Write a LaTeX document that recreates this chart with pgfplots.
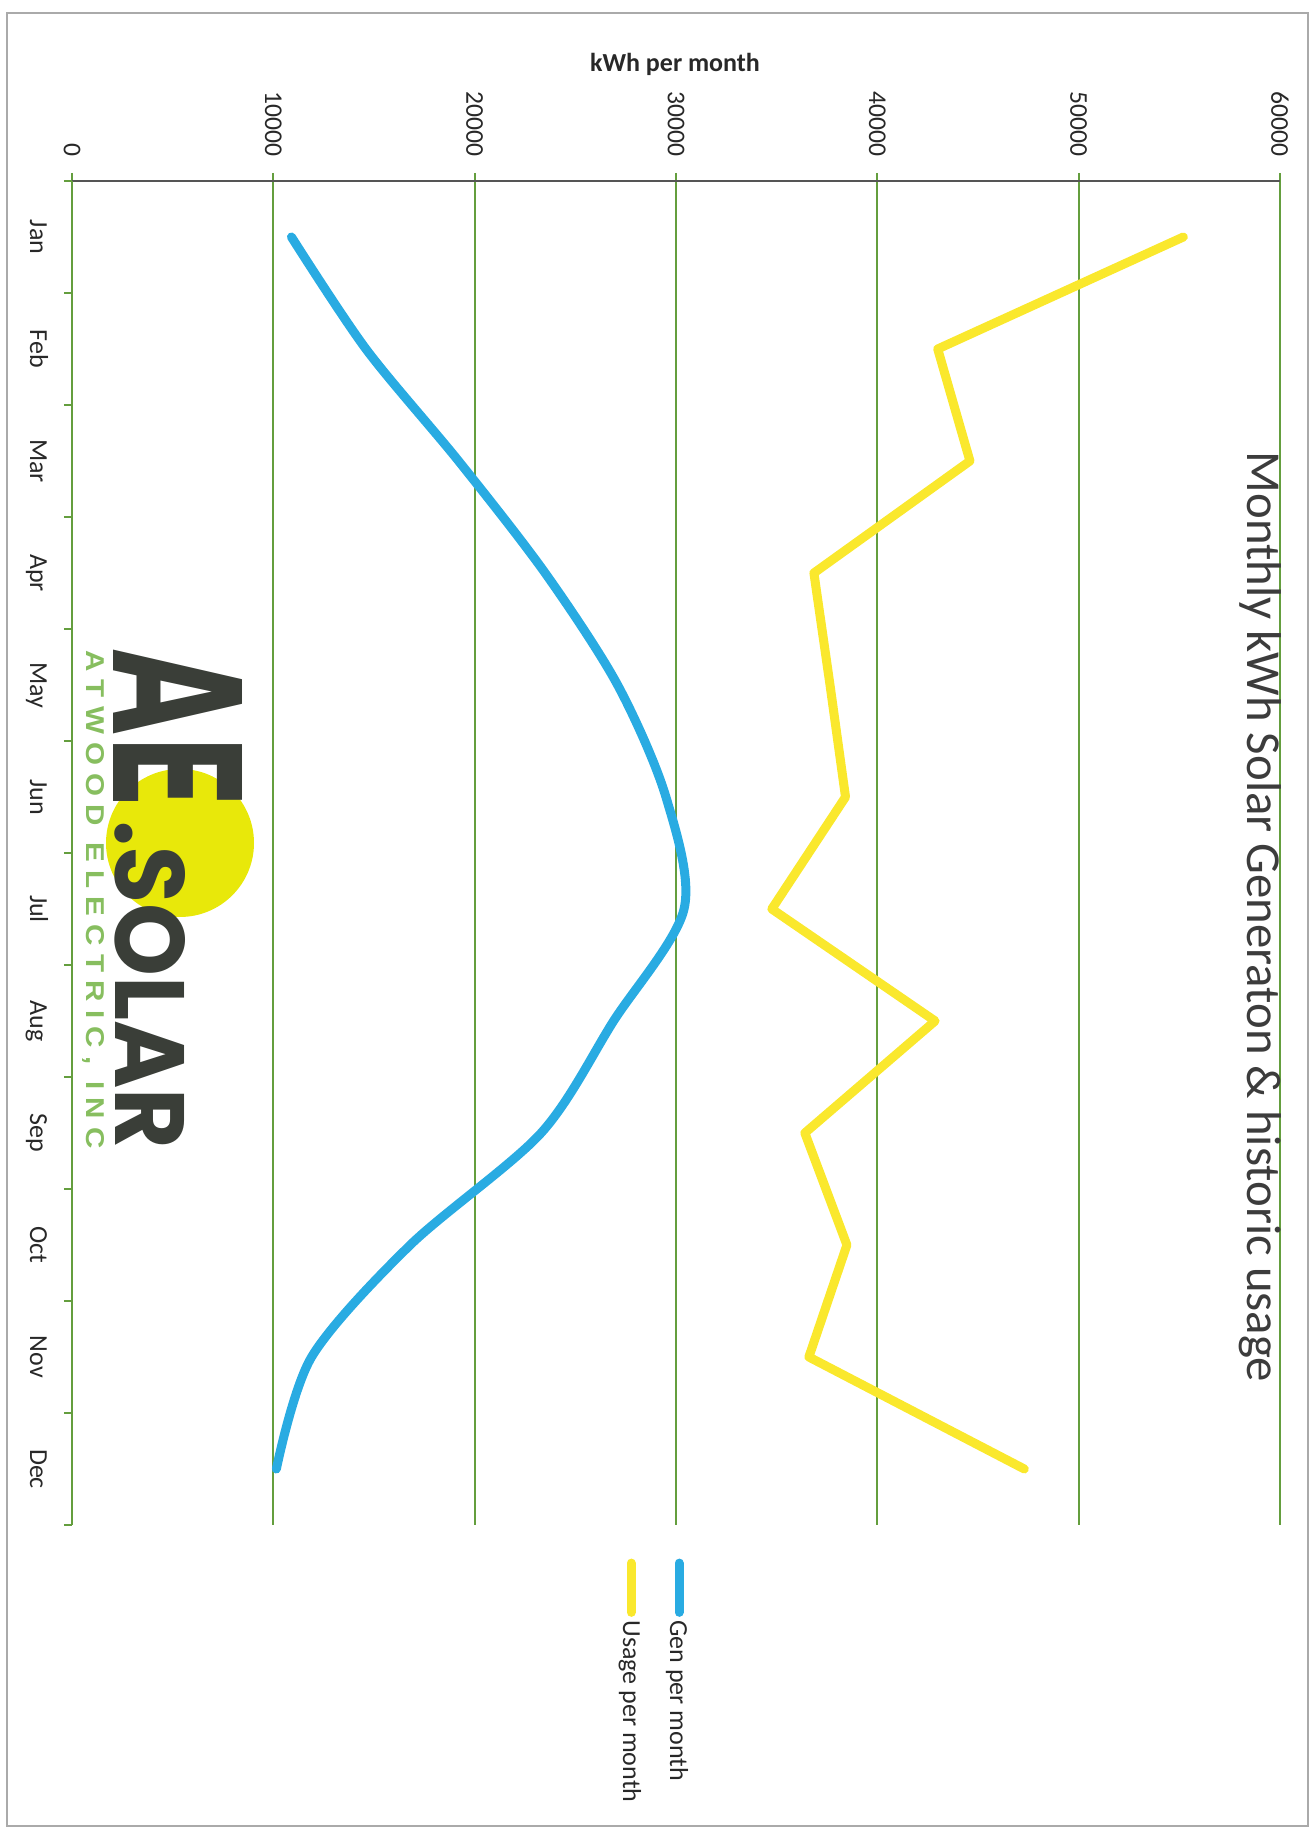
\documentclass[border=0pt]{standalone}
\usepackage{fontspec}
\setmainfont{Carlito}
\newfontfamily\logofont{DejaVu Sans}
\newfontfamily\solarfont{Poppins}
\newfontfamily\atwoodfont{Liberation Sans}
\usepackage{graphicx}
\usepackage{pgfplots}
\pgfplotsset{compat=1.18}

\definecolor{genblue}{RGB}{41,171,226}
\definecolor{usageyellow}{RGB}{250,232,45}
\definecolor{gridgreen}{RGB}{100,158,62}
\definecolor{axisgray}{RGB}{85,85,85}
\definecolor{textdark}{RGB}{40,40,40}
\definecolor{titlegray}{RGB}{60,60,60}
\definecolor{logogray}{RGB}{58,62,56}
\definecolor{sun}{RGB}{232,232,10}
\definecolor{logogreen}{RGB}{135,190,95}
\definecolor{framegray}{RGB}{170,170,170}

\begin{document}
% 1 unit = 1 pixel of the 1314x1831 reference, y measured upward
\begin{tikzpicture}[x=0.5pt, y=0.5pt]
\useasboundingbox (0,0) rectangle (1314,1831);
\draw[framegray, line width=0.8pt] (7,5) rectangle (1308,1818);

% logo
\fill[sun] (180,988) circle (74);
\node[rotate=-90, anchor=base west, inner sep=0pt, text=logogray] at (114,1182)
  {\resizebox{80pt}{64.5pt}{\logofont\bfseries AE}};
\node[rotate=-90, anchor=base west, inner sep=0pt, text=logogray] at (116,1011)
  {\resizebox{164.5pt}{35pt}{\solarfont\bfseries .SOLAR}};
\node[rotate=-90, anchor=base west, inner sep=0pt, text=logogreen] at (86,1181)
  {\resizebox{249pt}{9pt}{\atwoodfont\bfseries A T W O O D \ E L E C T R I C , \ I N C}};

\begin{axis}[
  at={(36pt,153pt)}, anchor=south west,
  scale only axis, width=604pt, height=672pt,
  xmin=0, xmax=60000, ymin=-0.5, ymax=11.5,
  scaled x ticks=false,
  axis x line*=top, axis y line*=left,
  x axis line style={draw=axisgray, line width=0.8pt},
  y axis line style={draw=gridgreen, line width=0.9pt},
  xtick={0,10000,...,60000},
  xticklabels={0,10000,20000,30000,40000,50000,60000},
  xticklabel style={rotate=-90, anchor=east, inner sep=0pt,
    font=\fontsize{12.8}{14}\selectfont, text=textdark},
  xticklabel shift=8pt,
  ytick={-0.5,0.5,...,11.5},
  yticklabels={},
  extra y ticks={0,1,...,11},
  extra y tick labels={Dec,Nov,Oct,Sep,Aug,Jul,Jun,May,Apr,Mar,Feb,Jan},
  extra y tick style={major tick length=0pt,
    yticklabel style={rotate=-90, anchor=base, inner sep=0pt,
      font=\fontsize{13}{15}\selectfont, text=textdark}},
  yticklabel shift=21pt,
  tick align=outside,
  major tick length=4pt,
  tick style={gridgreen, line width=0.9pt},
  xmajorgrids,
  major x grid style={gridgreen, line width=0.9pt},
  clip=false,
]
% Gen per month (Jan = 11 ... Dec = 0)
\addplot[genblue, line width=4.5pt, smooth, line cap=round] coordinates {
  (10900,11) (14600,10) (19200,9) (23500,8) (27100,7) (29500,6)
  (30400,5) (26900,4) (23300,3) (16800,2) (11900,1) (10150,0)};
% Usage per month
\addplot[usageyellow, line width=4.5pt, line cap=round, line join=round] coordinates {
  (55200,11) (43000,10) (44600,9) (36850,8) (37650,7) (38420,6)
  (34760,5) (42870,4) (36400,3) (38490,2) (36600,1) (47300,0)};
% legend samples
\addplot[genblue, line width=4.5pt, line cap=round, forget plot] coordinates {(30150,-0.84) (30150,-1.28)};
\addplot[usageyellow, line width=4.5pt, line cap=round, forget plot] coordinates {(27770,-0.84) (27770,-1.28)};
\end{axis}

\node[rotate=-90, anchor=base west, inner sep=0pt, text=textdark,
  font=\fontsize{13}{15}\selectfont] at (670,211) {Gen per month};
\node[rotate=-90, anchor=base west, inner sep=0pt, text=textdark,
  font=\fontsize{13}{15}\selectfont] at (623,211) {Usage per month};

\node[anchor=base, inner sep=0pt, text=textdark,
  font=\bfseries\fontsize{13}{15}\selectfont] at (675,1759) {kWh per month};
\node[rotate=-90, anchor=base, inner sep=0pt, text=titlegray,
  font=\fontsize{24.4}{28}\selectfont] at (1247,914)
  {Monthly kWh Solar Generaton \& historic usage};
\end{tikzpicture}
\end{document}
